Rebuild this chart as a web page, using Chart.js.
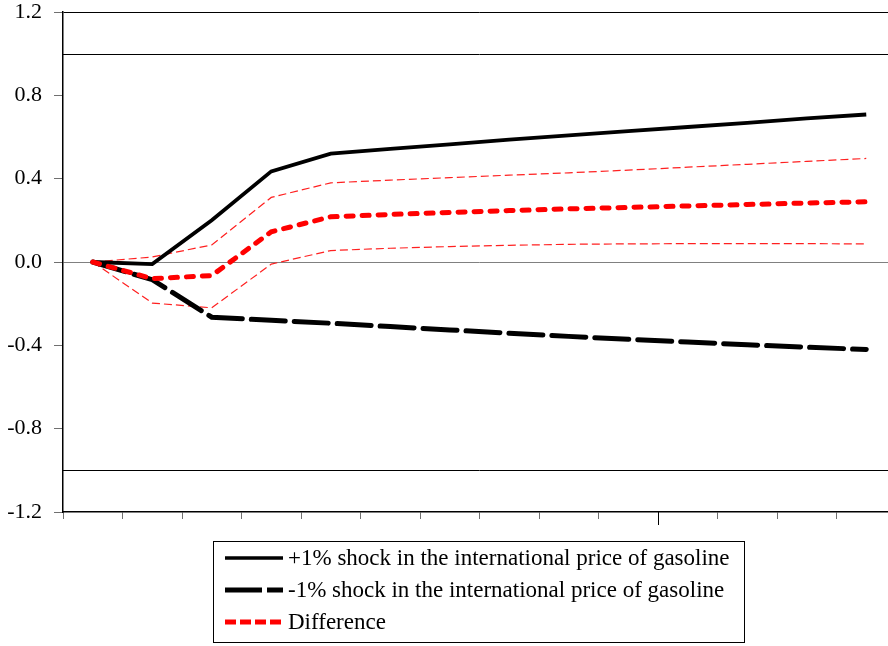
<!DOCTYPE html>
<html>
<head>
<meta charset="utf-8">
<script src="https://cdn.jsdelivr.net/npm/chart.js@4.4.1/dist/chart.umd.min.js"></script>
<style>
    html, body { margin: 0; padding: 0; background: #ffffff; overflow: hidden; }
    #wrap { width: 896px; height: 646px; }
</style>
</head>
<body>
<div id="wrap"><canvas id="irfChart" width="896" height="646"></canvas></div>
<script>
// Periodos (eje x sin etiquetas)
const periods = ["1", "2", "3", "4", "5", "6", "7", "8", "9", "10", "11", "12", "13", "14"];

// Respuestas
const plusShock = [0, -0.01, 0.2, 0.435, 0.52, 0.543, 0.565, 0.587, 0.608, 0.628, 0.648, 0.668, 0.689, 0.708];
const minusShock = [0, -0.085, -0.265, -0.28, -0.294, -0.31, -0.326, -0.342, -0.357, -0.371, -0.384, -0.397, -0.409, -0.42];
const difference = [0, -0.08, -0.065, 0.145, 0.217, 0.228, 0.238, 0.247, 0.255, 0.262, 0.269, 0.276, 0.283, 0.289];
const diffUpper = [0, 0.024, 0.082, 0.31, 0.38, 0.393, 0.405, 0.417, 0.428, 0.441, 0.455, 0.469, 0.483, 0.497];
const diffLower = [0, -0.197, -0.22, -0.01, 0.055, 0.066, 0.074, 0.08, 0.085, 0.087, 0.088, 0.088, 0.088, 0.087];

// Eje y
const yMin = -1.2;
const yMax = 1.2;
const yStep = 0.4;
const bandLines = [1, -1];
const majorTickIndex = 10;

const legendItems = [
    { text: "+1% shock in the international price of gasoline", color: "#000000", width: 3.5, dash: [] },
    { text: "-1% shock in the international price of gasoline", color: "#000000", width: 5, dash: [37, 5] },
    { text: "Difference", color: "#ff0000", width: 5, dash: [11, 4] },
];

const serif = "'Liberation Serif', 'Times New Roman', serif";

// Líneas horizontales en +1 / -1, tick largo y leyenda con recuadro
const extrasPlugin = {
    id: "extras",
    beforeDatasetsDraw(chart) {
        const { ctx, chartArea, scales } = chart;
        ctx.save();
        ctx.strokeStyle = "#000000";
        ctx.lineWidth = 1;
        bandLines.forEach(function (v) {
            const y = Math.round(scales.y.getPixelForValue(v)) + 0.5;
            ctx.beginPath();
            ctx.moveTo(chartArea.left, y);
            ctx.lineTo(chartArea.right, y);
            ctx.stroke();
        });
        ctx.restore();
    },
    afterDraw(chart) {
        const { ctx, chartArea, scales } = chart;
        ctx.save();
        // tick mayor en el periodo 10
        const xs = scales.x;
        const half = (xs.getPixelForValue(1) - xs.getPixelForValue(0)) / 2;
        const xt = Math.round(xs.getPixelForValue(majorTickIndex) - half) + 0.5;
        ctx.strokeStyle = "#000000";
        ctx.lineWidth = 1;
        ctx.beginPath();
        ctx.moveTo(xt, chartArea.bottom);
        ctx.lineTo(xt, chartArea.bottom + 13);
        ctx.stroke();

        // leyenda
        const bx = 213.5, by = 541.5, bw = 531, bh = 101;
        ctx.strokeStyle = "#000000";
        ctx.lineWidth = 1;
        ctx.strokeRect(bx, by, bw, bh);
        ctx.font = "23px " + serif;
        ctx.textBaseline = "middle";
        ctx.fillStyle = "#000000";
        legendItems.forEach(function (item, i) {
            const y = 558 + i * 32;
            ctx.beginPath();
            ctx.strokeStyle = item.color;
            ctx.lineWidth = item.width;
            ctx.setLineDash(item.dash);
            ctx.moveTo(225, y);
            ctx.lineTo(283, y);
            ctx.stroke();
            ctx.setLineDash([]);
            ctx.fillText(item.text, 288, y + 1);
        });
        ctx.restore();
    },
};

document.addEventListener("DOMContentLoaded", function () {
    const irfCtx = document.getElementById("irfChart")?.getContext("2d");
    if (irfCtx) {
        const irfChart = new Chart(irfCtx, {
            type: "line",
            data: {
                labels: periods,
                datasets: [
                    {
                        label: "Difference",
                        data: difference,
                        borderColor: "#ff0000",
                        borderWidth: 5,
                        borderDash: [7, 9],
                        borderCapStyle: "round",
                        pointRadius: 0,
                        tension: 0,
                        order: 1,
                    },
                    {
                        label: "+1% shock in the international price of gasoline",
                        data: plusShock,
                        borderColor: "#000000",
                        borderWidth: 3.8,
                        pointRadius: 0,
                        tension: 0,
                        order: 2,
                    },
                    {
                        label: "-1% shock in the international price of gasoline",
                        data: minusShock,
                        borderColor: "#000000",
                        borderWidth: 5,
                        borderDash: [34, 9],
                        borderCapStyle: "round",
                        pointRadius: 0,
                        tension: 0,
                        order: 3,
                    },
                    {
                        label: "Upper",
                        data: diffUpper,
                        borderColor: "#ff2020",
                        borderWidth: 1.2,
                        borderDash: [8, 4],
                        pointRadius: 0,
                        tension: 0,
                        order: 4,
                    },
                    {
                        label: "Lower",
                        data: diffLower,
                        borderColor: "#ff2020",
                        borderWidth: 1.2,
                        borderDash: [8, 4],
                        pointRadius: 0,
                        tension: 0,
                        order: 5,
                    },
                ],
            },
            options: {
                responsive: false,
                animation: false,
                layout: {
                    padding: { top: 12, left: 5, right: 0, bottom: 127 },
                },
                plugins: {
                    legend: { display: false },
                    tooltip: { enabled: false },
                },
                scales: {
                    x: {
                        type: "category",
                        offset: true,
                        ticks: { display: false },
                        grid: {
                            offset: true,
                            drawOnChartArea: false,
                            drawTicks: true,
                            tickLength: 7,
                            tickColor: "#707070",
                        },
                        border: { color: "#000000", width: 1.5 },
                    },
                    y: {
                        min: yMin,
                        max: yMax,
                        afterFit: function (scale) {
                            scale.width = 58;
                            scale.paddingTop = 0;
                            scale.paddingBottom = 0;
                        },
                        ticks: {
                            stepSize: yStep,
                            padding: 12,
                            color: "#000000",
                            font: { size: 22, family: serif },
                            callback: function (value) {
                                return Number(value).toFixed(1);
                            },
                        },
                        grid: {
                            drawOnChartArea: true,
                            tickLength: 9,
                            tickColor: "#707070",
                            color: function (c) {
                                if (!c.tick) return "transparent";
                                if (Math.abs(c.tick.value) < 1e-9) return "#808080";
                                if (Math.abs(c.tick.value - yMax) < 1e-9) return "#000000";
                                return "transparent";
                            },
                        },
                        border: { color: "#000000", width: 1.5 },
                    },
                },
            },
            plugins: [extrasPlugin],
        });
    }
});
</script>
</body>
</html>
